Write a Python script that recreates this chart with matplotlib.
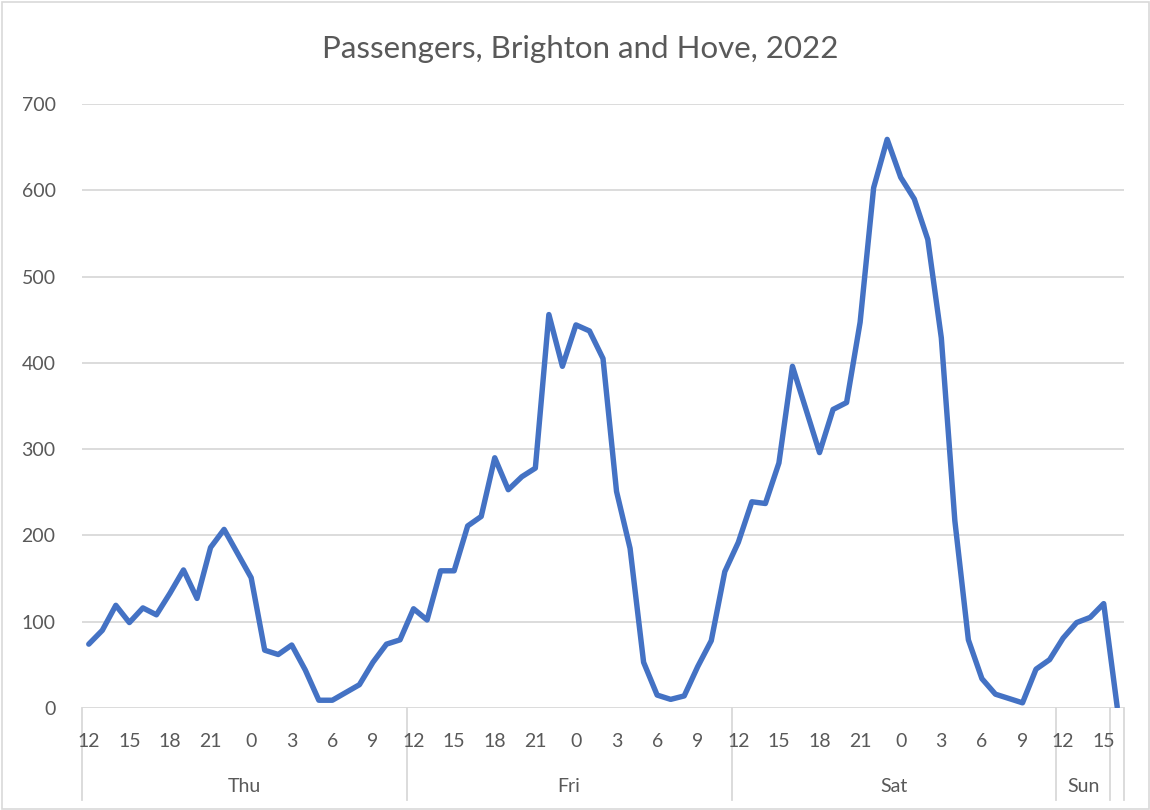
import matplotlib
matplotlib.use("Agg")
import matplotlib.pyplot as plt
import matplotlib.transforms as mtransforms
from matplotlib.patches import Rectangle

plt.rcParams["font.family"] = ["Lato", "DejaVu Sans"]

# hourly categories, Thu 12:00 through Sun 16:00
day_hours = list(range(12, 24)) + list(range(0, 12))
hours = day_hours * 3 + [12, 13, 14, 15, 16]
days = ["Thu"] * 24 + ["Fri"] * 24 + ["Sat"] * 24 + ["Sun"] * 4 + [""]

thu = [74, 90, 119, 99, 116, 108, 133, 160, 127, 186, 207, 179,
       151, 67, 62, 73, 44, 9, 9, 18, 27, 53, 74, 79]
fri = [115, 102, 159, 159, 211, 222, 290, 253, 268, 278, 456, 396,
       444, 437, 405, 251, 185, 53, 15, 10, 14, 48, 78, 158]
sat = [192, 239, 237, 284, 396, 346, 296, 346, 354, 447, 603, 659,
       615, 590, 543, 429, 217, 79, 34, 16, 11, 6, 45, 56]
sun = [81, 99, 105, 121, 1]
passengers = thu + fri + sat + sun

y_ticks = [0, 100, 200, 300, 400, 500, 600, 700]

TEXT = "#595959"
GRID = "#D9D9D9"
LINE = "#4472C4"

W, H = 1150, 810
fig = plt.figure(figsize=(W / 100, H / 100), dpi=100)
fig.patch.set_facecolor("white")
fig.patches.append(Rectangle((1.5 / W, 1.5 / H), 1 - 3 / W, 1 - 3 / H,
                             transform=fig.transFigure, fill=False,
                             edgecolor=GRID, linewidth=1.2))

left, right, top, bottom = 82, 1124, 104, 708
ax = fig.add_axes([left / W, 1 - bottom / H, (right - left) / W, (bottom - top) / H])

n = len(passengers)
x = list(range(n))
ax.plot(x, passengers, color=LINE, linewidth=3.9,
        solid_joinstyle="round", solid_capstyle="round", zorder=3)

ax.set_xlim(-0.5, n - 0.5)
ax.set_ylim(0, 700)
ax.set_yticks(y_ticks)
ax.set_yticklabels([str(v) for v in y_ticks])
ax.tick_params(axis="y", length=0, pad=19, labelsize=14, labelcolor=TEXT)
ax.set_xticks([])
ax.grid(axis="y", color=GRID, linewidth=1.3)
ax.set_axisbelow(True)
for s in ax.spines.values():
    s.set_visible(False)

trans = mtransforms.blended_transform_factory(ax.transData, ax.transAxes)

# hour labels every 3 hours
for i, h in enumerate(hours):
    if i % 3 == 0:
        ax.text(i, -0.056, str(h), transform=trans, ha="center", va="center",
                fontsize=14, color=TEXT)

# day groups with separators
bounds = [0]
for i in range(1, n):
    if days[i] != days[i - 1]:
        bounds.append(i)
bounds.append(n)
for a, b in zip(bounds[:-1], bounds[1:]):
    ax.text((a + b - 1) / 2, -0.13, days[a], transform=trans,
            ha="center", va="center", fontsize=14, color=TEXT)
for bnd in bounds:
    ax.plot([bnd - 0.5, bnd - 0.5], [0, -0.152], transform=trans,
            color=GRID, linewidth=1.3, clip_on=False)

fig.text(0.505, 1 - 49 / H, "Passengers, Brighton and Hove, 2022",
         ha="center", va="center", fontsize=22.5, color=TEXT)

fig.savefig("out.png", dpi=100)
